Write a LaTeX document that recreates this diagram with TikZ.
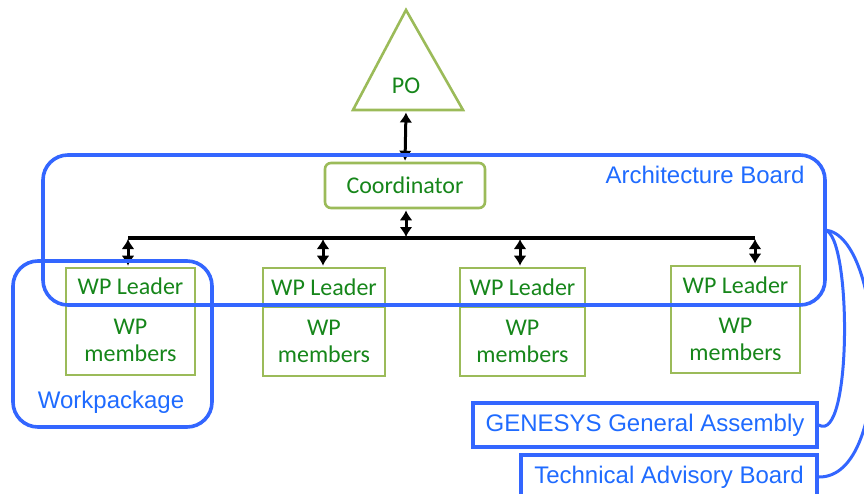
\documentclass[tikz,border=0pt]{standalone}
\usepackage{fontspec}
\setmainfont{Carlito}
\newfontfamily\arialf{Liberation Sans}
\usetikzlibrary{arrows.meta}
\definecolor{bblue}{HTML}{3366FF}
\definecolor{tblue}{HTML}{1F6BFF}
\definecolor{gline}{HTML}{9BBB59}
\definecolor{gtext}{HTML}{16861A}
\tikzset{
  gbox/.style={draw=gline, line width=2.6pt, text=gtext, inner sep=0pt, align=center,
    font=\fontsize{24}{27}\selectfont},
  bluebox/.style={draw=bblue, line width=3.6pt, rounded corners=25pt},
  bluelabel/.style={text=tblue, font=\arialf\fontsize{24}{26}\selectfont},
  rectlabel/.style={draw=bblue, line width=3.6pt, fill=white, text=tblue,
    font=\arialf\fontsize{24}{26}\selectfont, inner sep=0pt},
  dbl/.style={line width=3pt, shorten >=1pt, shorten <=1pt,
    {Latex[length=10pt,width=13pt]}-{Latex[length=10pt,width=13pt]}},
  bus/.style={line width=3.4pt},
  bcurve/.style={draw=bblue, line width=3pt}
}
\begin{document}
\begin{tikzpicture}[x=1pt,y=-1pt]
\useasboundingbox (0,0) rectangle (864,493);
% PO triangle
\draw[draw=gline, line width=2.6pt, line join=miter] (406,10) -- (463,110) -- (353,110) -- cycle;
\node[text=gtext, font=\fontsize{24}{26}\selectfont] (po) at (406,86) {PO};
\coordinate (poB) at (406,111.5);
% Coordinator
\node[gbox, rounded corners=6pt, minimum width=160pt, minimum height=45pt] (coord) at (405,185.5) {Coordinator};
% WP boxes
\node[gbox, minimum width=129pt, minimum height=37pt] (l1) at (130.5,286.5) {WP Leader};
\node[gbox, minimum width=129pt, minimum height=70pt] (m1) at (130.5,340) {WP\\members};
\node[gbox, minimum width=122pt, minimum height=39pt] (l2) at (324,287.5) {WP Leader};
\node[gbox, minimum width=122pt, minimum height=69pt] (m2) at (324,341.5) {WP\\members};
\node[gbox, minimum width=125pt, minimum height=39pt] (l3) at (522.5,287.5) {WP Leader};
\node[gbox, minimum width=125pt, minimum height=69pt] (m3) at (522.5,341.5) {WP\\members};
\node[gbox, minimum width=129pt, minimum height=39pt] (l4) at (735.5,285.5) {WP Leader};
\node[gbox, minimum width=129pt, minimum height=68pt] (m4) at (735.5,339) {WP\\members};
% bus
\coordinate (b0) at (406,238);
\coordinate (b1) at (128,238);
\coordinate (b2) at (323,238);
\coordinate (b3) at (520,238);
\coordinate (b4) at (755,238);
\draw[bus] (b1) -- (b4);
\draw[dbl] (poB) -- (coord.north);
\draw[dbl] (coord.south -| b0) -- (b0);
\draw[dbl] (b1) -- (l1.north -| b1);
\draw[dbl] (b2) -- (l2.north -| b2);
\draw[dbl] (b3) -- (l3.north -| b3);
\draw[dbl] (b4) -- (l4.north -| b4);
% Architecture board
\draw[bluebox] (43,155) rectangle (825,305);
\node[bluelabel] (ab) at (705,175) {Architecture Board};
% Workpackage
\draw[bluebox] (13,261) rectangle (212,427);
\node[bluelabel] (wpl) at (111,402) {Workpackage};
% lower boxes
\node[rectlabel, minimum width=344pt, minimum height=44pt] (gga) at (645,425) {GENESYS General Assembly};
\node[rectlabel, minimum width=296pt, minimum height=44pt] (tab) at (669,477) {Technical Advisory Board};
% curves
\coordinate (abR) at (825,230);
\draw[bcurve] (abR) .. controls (852,235) and (852,445) .. (gga.east);
\draw[bcurve] (abR) .. controls (885,235) and (895,478) .. (tab.east);
\end{tikzpicture}
\end{document}
